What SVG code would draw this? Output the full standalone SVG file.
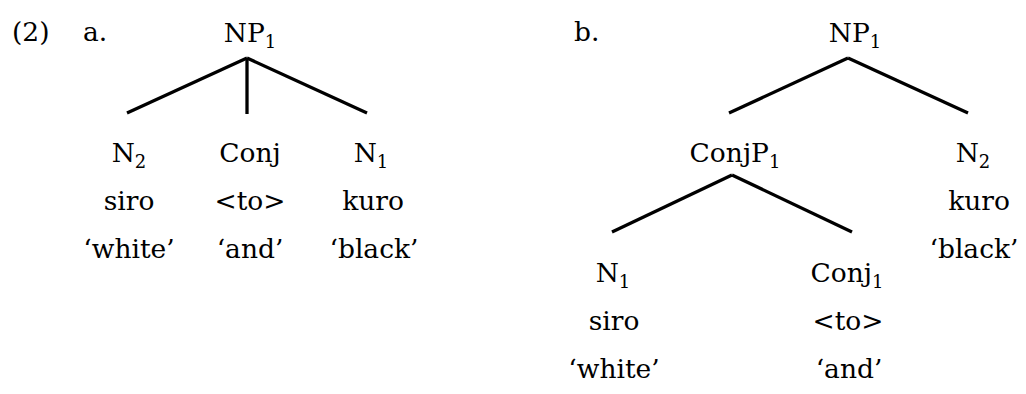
<svg xmlns="http://www.w3.org/2000/svg" width="1026" height="394" viewBox="0 0 1026 394">
<style>
text{font-family:"DejaVu Serif","Liberation Serif",serif;font-size:26.5px;fill:#000;text-anchor:middle}
.s{font-size:18px}
.l{text-anchor:start}
line{stroke:#000;stroke-width:3.3;stroke-linecap:butt}
</style>
<rect width="1026" height="394" fill="#fff"/>
<text class="l" x="12" y="41">(2)</text>
<text class="l" x="83" y="41">a.</text>
<text class="l" x="574" y="41">b.</text>
<g id="connectors">
<line x1="247" y1="58" x2="127" y2="113"/>
<line x1="247" y1="58" x2="247" y2="114"/>
<line x1="247" y1="58" x2="367" y2="113"/>
<line x1="848" y1="58" x2="729" y2="113"/>
<line x1="848" y1="58" x2="968" y2="113"/>
<line x1="732" y1="175" x2="612" y2="232"/>
<line x1="732" y1="175" x2="852" y2="232"/>
</g>
<g id="a-np1"><text x="250" y="42">NP<tspan class="s" dy="6">1</tspan></text></g>
<g id="a-n2"><text x="129" y="162">N<tspan class="s" dy="6">2</tspan></text><text x="129" y="210">siro</text><text x="129" y="258">‘white’</text></g>
<g id="a-conj"><text x="250" y="162">Conj</text><text x="250" y="210">&lt;to&gt;</text><text x="250" y="258">‘and’</text></g>
<g id="a-n1"><text x="371" y="162">N<tspan class="s" dy="6">1</tspan></text><text x="373" y="210">kuro</text><text x="374" y="258">‘black’</text></g>
<g id="b-np1"><text x="855" y="42">NP<tspan class="s" dy="6">1</tspan></text></g>
<g id="b-conjp1"><text x="735" y="162">ConjP<tspan class="s" dy="6">1</tspan></text></g>
<g id="b-n2"><text x="973" y="162">N<tspan class="s" dy="6">2</tspan></text><text x="979" y="210">kuro</text><text x="974" y="258">‘black’</text></g>
<g id="b-n1"><text x="613" y="282">N<tspan class="s" dy="6">1</tspan></text><text x="614" y="330">siro</text><text x="614" y="378">‘white’</text></g>
<g id="b-conj1"><text x="847" y="282">Conj<tspan class="s" dy="6">1</tspan></text><text x="848" y="330">&lt;to&gt;</text><text x="849" y="378">‘and’</text></g>
</svg>
